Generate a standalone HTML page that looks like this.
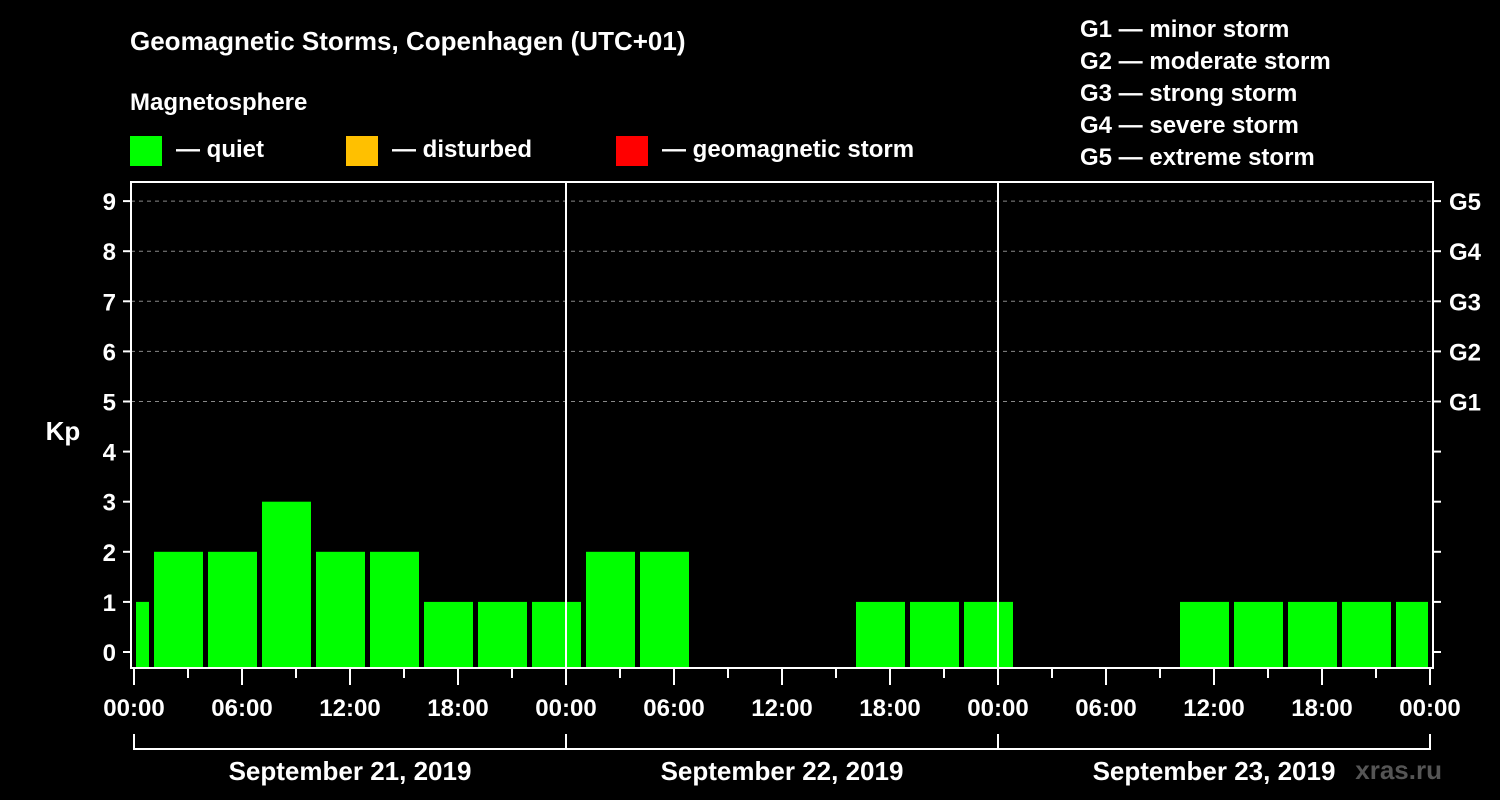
<!DOCTYPE html>
<html><head><meta charset="utf-8"><style>
body{margin:0;background:#000;}
svg{display:block;font-family:"Liberation Sans",Arial,sans-serif;font-weight:bold;}
</style></head><body>
<svg id="chart" width="1500" height="800" viewBox="0 0 1500 800">
<rect width="1500" height="800" fill="#000"/>
<text x="130" y="50" fill="#fff" font-size="26">Geomagnetic Storms, Copenhagen (UTC+01)</text>
<text x="130" y="110" fill="#fff" font-size="24">Magnetosphere</text>
<g><rect x="130" y="136" width="32" height="30" fill="#00ff00"/><text x="176" y="157" fill="#fff" font-size="24">— quiet</text></g>
<g><rect x="346" y="136" width="32" height="30" fill="#ffc000"/><text x="392" y="157" fill="#fff" font-size="24">— disturbed</text></g>
<g><rect x="616" y="136" width="32" height="30" fill="#ff0000"/><text x="662" y="157" fill="#fff" font-size="24">— geomagnetic storm</text></g>
<g fill="#fff" font-size="24">
<text x="1080" y="37">G1 — minor storm</text>
<text x="1080" y="69">G2 — moderate storm</text>
<text x="1080" y="101">G3 — strong storm</text>
<text x="1080" y="133">G4 — severe storm</text>
<text x="1080" y="165">G5 — extreme storm</text>
</g>
<text x="63" y="440" fill="#fff" font-size="26" text-anchor="middle">Kp</text>
<g id="grid"></g><g id="bars"></g><g id="axes"></g>
<text x="1442" y="779" fill="#555" font-size="26" text-anchor="end" font-weight="bold">xras.ru</text>
</svg>
<script>
const kpValues=[1,2,2,3,2,2,1,1,1,2,2,0,0,0,1,1,1,0,0,0,1,1,1,1,1];
const yTicks=[0,1,2,3,4,5,6,7,8,9];
const gLabels=["G1","G2","G3","G4","G5"];
const xLabels=["00:00","06:00","12:00","18:00","00:00","06:00","12:00","18:00","00:00","06:00","12:00","18:00","00:00"];
const dayLabels=["September 21, 2019","September 22, 2019","September 23, 2019"];
const NS="http://www.w3.org/2000/svg";
const X0=134,PXH=18,HOURS=72,BOT=668;
const xs=h=>X0+h*PXH;
const ys=v=>652-50.1*v;
function mk(tag,attrs,parent,txt){const e=document.createElementNS(NS,tag);for(const k in attrs)e.setAttribute(k,attrs[k]);if(txt!==undefined)e.textContent=txt;parent.appendChild(e);return e;}
const grid=document.getElementById('grid'),bars=document.getElementById('bars'),axes=document.getElementById('axes');
for(let v=5;v<=9;v++){const l=mk('line',{x1:131,x2:1433,y1:ys(v),y2:ys(v),stroke:'#888','stroke-dasharray':'4 4','stroke-width':1},grid);

}
kpValues.forEach((v,i)=>{if(v<=0)return;let a=Math.max(xs(i*3-2)+2,136),b=Math.min(xs(i*3+1)-3,1428);
const r=mk('rect',{x:a,y:ys(v),width:b-a,height:BOT-1-ys(v),fill:v>=5?'#ff0000':(v>=4?'#ffc000':'#00ff00')},bars);

});
const f=mk('rect',{x:131,y:182,width:1302,height:486,fill:'none',stroke:'#fff','stroke-width':2},axes);


for(let d=1;d<3;d++){const l=mk('line',{x1:xs(d*24),x2:xs(d*24),y1:182,y2:668,stroke:'#fff','stroke-width':2},axes);

}
yTicks.forEach(v=>{mk('line',{x1:123,x2:131,y1:ys(v),y2:ys(v),stroke:'#fff','stroke-width':2},axes);
mk('line',{x1:1433,x2:1441,y1:ys(v),y2:ys(v),stroke:'#fff','stroke-width':2},axes);
const t=mk('text',{x:116,y:ys(v)+9,fill:'#fff','font-size':24,'text-anchor':'end'},axes,String(v));

});
gLabels.forEach((g,i)=>{const t=mk('text',{x:1449,y:ys(i+5)+9,fill:'#fff','font-size':24},axes,g);

});
for(let h=0;h<=HOURS;h+=3){const maj=h%6===0;mk('line',{x1:xs(h),x2:xs(h),y1:669,y2:maj?685:678,stroke:'#fff','stroke-width':2},axes);}
xLabels.forEach((s,i)=>{const t=mk('text',{x:xs(i*6),y:716,fill:'#fff','font-size':24,'text-anchor':'middle'},axes,s);

});
mk('line',{x1:134,x2:1430,y1:749,y2:749,stroke:'#fff','stroke-width':2},axes);
for(let d=0;d<=3;d++)mk('line',{x1:xs(d*24),x2:xs(d*24),y1:734,y2:750,stroke:'#fff','stroke-width':2},axes);
dayLabels.forEach((s,i)=>{const t=mk('text',{x:xs(i*24+12),y:780,fill:'#fff','font-size':26,'text-anchor':'middle'},axes,s);

});
</script>
</body></html>
